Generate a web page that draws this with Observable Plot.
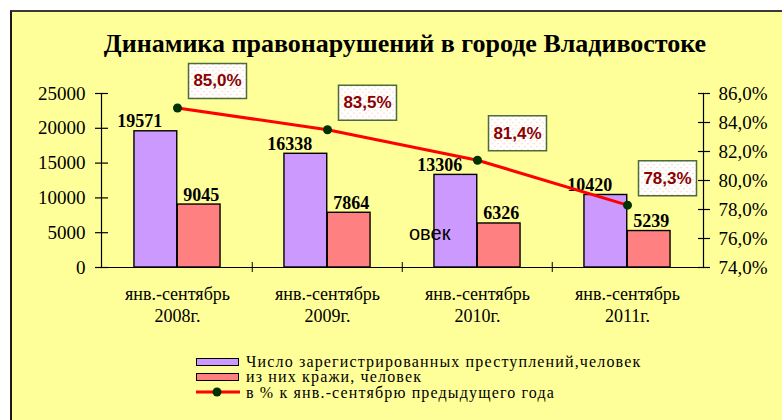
<!DOCTYPE html>
<html><head><meta charset="utf-8">
<script src="https://cdn.jsdelivr.net/npm/d3@7"></script>
<script src="https://cdn.jsdelivr.net/npm/@observablehq/plot@0.6"></script>
<style>
body{margin:0;background:#fff;}
#wrap{position:relative;width:782px;height:420px;overflow:hidden;background:#fff;font-family:"Liberation Serif","Times New Roman",serif;color:#000;}
#panel{position:absolute;left:10px;top:10px;width:780px;height:420px;background:#FFFF99;border-top:2px solid #3a3a3a;border-left:2px solid #1a1a1a;}
#title{position:absolute;left:0;width:810px;top:29px;line-height:30px;text-align:center;font-weight:bold;font-size:26px;white-space:nowrap;}
#chart{position:absolute;left:0;top:0;}
.lg-sw{position:absolute;left:196px;width:41px;height:6px;border:1.5px solid #000;}
.lg-tx{position:absolute;left:246px;font-size:16px;line-height:15px;height:15px;letter-spacing:1.15px;white-space:nowrap;}
#stray{position:absolute;left:409px;top:223px;font-family:"Liberation Sans",Arial,sans-serif;font-size:20px;line-height:20px;}
</style></head>
<body>
<svg width="0" height="0" style="position:absolute">
  <defs>
    <pattern id="dots" width="6" height="6" patternUnits="userSpaceOnUse">
      <rect width="6" height="6" fill="#ffffff"/>
      <circle cx="1.5" cy="1.5" r="0.8" fill="#f6cdb8"/>
      <circle cx="4.5" cy="4.5" r="0.8" fill="#f6cdb8"/>
    </pattern>
  </defs>
</svg>
<div id="wrap">
  <div id="panel"></div>
  <div id="title">Динамика правонарушений в городе Владивостоке</div>
  <div id="chart"></div>
  <div id="stray">овек</div>
  <div id="legend"></div>
</div>
<script>
// ---- data ----
const years = ["2008г.", "2009г.", "2010г.", "2011г."];
const periodLabel = "янв.-сентябрь";
const totalCrimes = [19571, 16338, 13306, 10420];
const thefts = [9045, 7864, 6326, 5239];
const pctPrev = [85.0, 83.5, 81.4, 78.3];
const leftTicks = [0, 5000, 10000, 15000, 20000, 25000];
const rightTicks = [74, 76, 78, 80, 82, 84, 86];
const seriesNames = ["Число зарегистрированных преступлений,человек", "из них кражи, человек", "в % к янв.-сентябрю предыдущего года"];
const colors = {total: "#CC99FF", theft: "#FF8080", line: "#FF0000", dot: "#003300", pctText: "#8B0000"};

// ---- layout ----
const W = 782, H = 340;
const mL = 101, mR = 79, mT = 93, mB = 73;
const yMax = 25000, pMin = 74, pMax = 86;
const plotH = H - mT - mB;
const bw = (W - mL - mR) / years.length;
const barW = 43.3;
const px = v => v * yMax / plotH;            // pixels -> left-axis units
const toLeft = p => (p - pMin) / (pMax - pMin) * yMax;
const toPct = v => pMin + v / yMax * (pMax - pMin);
const fmtPct = p => p.toFixed(1).replace(".", ",") + "%";

const rows = years.map((y, i) => ({year: y, total: totalCrimes[i], theft: thefts[i], pct: pctPrev[i]}));

const boxSymbol = {draw(ctx) { ctx.rect(-29, -17.5, 58, 35); }};

const chart = Plot.plot({
  width: W, height: H,
  marginLeft: mL, marginRight: mR, marginTop: mT, marginBottom: mB,
  style: {background: "none", fontFamily: "Liberation Serif, Times New Roman, serif", fontSize: "18px", color: "#000", overflow: "visible"},
  x: {domain: years, padding: 0, axis: null},
  y: {domain: [0, yMax], axis: null},
  marks: [
    Plot.barY(rows, {x: "year", y: "total", fill: colors.total, stroke: "#000", strokeWidth: 1.4, insetLeft: bw / 2 - barW, insetRight: bw / 2}),
    Plot.barY(rows, {x: "year", y: "theft", fill: colors.theft, stroke: "#000", strokeWidth: 1.4, insetLeft: bw / 2, insetRight: bw / 2 - barW}),
    Plot.ruleY([0], {stroke: "#000", strokeWidth: 1.2}),
    Plot.ruleX(years.slice(1), {x: d => d, y1: -px(5), y2: px(5), dx: -bw / 2, stroke: "#000", strokeWidth: 1}),
    Plot.frame({anchor: "left", stroke: "#000", strokeWidth: 1.2}),
    Plot.frame({anchor: "right", stroke: "#000", strokeWidth: 1.2}),
    Plot.axisY(leftTicks, {anchor: "left", tickSize: 13, dx: 7, tickPadding: 10, fontSize: 19, tickFormat: d => String(d), label: null, strokeWidth: 1.2}),
    Plot.axisY(rightTicks.map(toLeft), {anchor: "right", tickSize: 12, dx: -6, tickPadding: 9, fontSize: 19, tickFormat: v => fmtPct(Math.round(toPct(v) * 10) / 10), label: null, strokeWidth: 1.2}),
    Plot.axisX({tickSize: 0, tickPadding: 18, fontSize: 18, lineHeight: 1.17, tickFormat: d => periodLabel + "\n" + d, label: null}),
    Plot.text(rows, {x: "year", y: "total", text: d => String(d.total), dx: -barW / 2 - 16, dy: -4, lineAnchor: "bottom", fontWeight: "bold", fontSize: 18}),
    Plot.text(rows, {x: "year", y: "theft", text: d => String(d.theft), dx: barW / 2 + 2, dy: -4, lineAnchor: "bottom", fontWeight: "bold", fontSize: 18}),
    Plot.line(rows, {x: "year", y: d => toLeft(d.pct), stroke: colors.line, strokeWidth: 3}),
    Plot.dot(rows, {x: "year", y: d => toLeft(d.pct), r: 4.5, fill: colors.dot, stroke: "none"}),
    Plot.dot(rows, {x: "year", y: d => toLeft(d.pct), symbol: boxSymbol, r: 10, fill: "url(#dots)", stroke: "#4d6b3c", strokeWidth: 1.5, dx: 40, dy: -27}),
    Plot.text(rows, {x: "year", y: d => toLeft(d.pct), text: d => fmtPct(d.pct), dx: 40, dy: -27, fill: colors.pctText, fontWeight: "bold", fontSize: 17, fontFamily: "Liberation Sans, Arial, sans-serif"})
  ]
});
document.getElementById("chart").appendChild(chart);

// ---- legend ----
const lg = document.getElementById("legend");
lg.innerHTML = `
  <div class="lg-sw" style="top:358px;background:${colors.total}"></div>
  <div class="lg-tx" style="top:353.5px">${seriesNames[0]}</div>
  <div class="lg-sw" style="top:373px;background:${colors.theft}"></div>
  <div class="lg-tx" style="top:369px">${seriesNames[1]}</div>
  <svg style="position:absolute;left:194px;top:386px" width="50" height="12">
    <line x1="2" y1="6" x2="46" y2="6" stroke="${colors.line}" stroke-width="3"/>
    <circle cx="23" cy="6" r="4.5" fill="${colors.dot}"/>
  </svg>
  <div class="lg-tx" style="top:384.5px">${seriesNames[2]}</div>`;
</script>
</body></html>
